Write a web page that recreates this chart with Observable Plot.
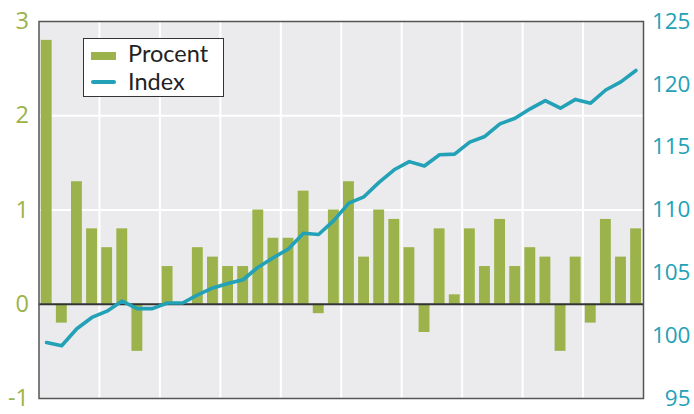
<!DOCTYPE html>
<html>
<head>
<meta charset="utf-8">
<script src="https://cdn.jsdelivr.net/npm/d3@7"></script>
<script src="https://cdn.jsdelivr.net/npm/@observablehq/plot@0.6"></script>
<style>
  html, body { margin: 0; padding: 0; background: #fff; }
  #wrap { position: relative; width: 694px; height: 414px; font-family: "Open Sans", sans-serif; }
  #legend { position: absolute; left: 83px; top: 38px; width: 141px; height: 59px; border: 1.5px solid #333; background: #fff; box-sizing: border-box; }
  .sw { position: absolute; left: 7px; }
  .lt { position: absolute; left: 44px; font-family: Lato, "Open Sans", sans-serif; font-size: 23.5px; line-height: 23px; height: 23px; color: #222; white-space: nowrap; }
</style>
</head>
<body>
<div id="wrap">
  <div id="chart"></div>
  <div id="legend">
    <div class="sw" style="top:13px;width:25px;height:8px;background:#9BB34A"></div>
    <div class="lt" style="top:3.4px">Procent</div>
    <div class="sw" style="top:41px;width:25px;height:4px;border-radius:2px;background:#22A1B7"></div>
    <div class="lt" style="top:31px">Index</div>
  </div>
</div>
<script>
// Quarterly change (%) — 40 quarters
const procent = [2.8, -0.2, 1.3, 0.8, 0.6, 0.8, -0.5, 0, 0.4, 0,
                 0.6, 0.5, 0.4, 0.4, 1.0, 0.7, 0.7, 1.2, -0.1, 1.0,
                 1.3, 0.5, 1.0, 0.9, 0.6, -0.3, 0.8, 0.1, 0.8, 0.4,
                 0.9, 0.4, 0.6, 0.5, -0.5, 0.5, -0.2, 0.9, 0.5, 0.8];
// Index level (right axis)
const index = [99.45, 99.2, 100.55, 101.45, 101.95, 102.75, 102.15, 102.15, 102.6, 102.6,
               103.25, 103.8, 104.15, 104.45, 105.45, 106.2, 106.9, 108.15, 108.05, 109.15,
               110.55, 111.05, 112.2, 113.2, 113.85, 113.5, 114.4, 114.45, 115.4, 115.85,
               116.85, 117.3, 118.05, 118.7, 118.1, 118.8, 118.5, 119.55, 120.2, 121.1];
const leftTicks = [-1, 0, 1, 2, 3];
const rightTicks = [95, 100, 105, 110, 115, 120, 125];
const yearBreaks = [4, 8, 12, 16, 20, 24, 28, 32, 36];

const leftDomain = [-1, 3];
const rightDomain = [95, 125];
const toLeft = v => leftDomain[0] + (v - rightDomain[0]) * (leftDomain[1] - leftDomain[0]) / (rightDomain[1] - rightDomain[0]);
const toRight = v => rightDomain[0] + (v - leftDomain[0]) * (rightDomain[1] - rightDomain[0]) / (leftDomain[1] - leftDomain[0]);

const bars = procent.map((v, i) => ({i, v}));
const line = index.map((v, i) => ({i, v, y: toLeft(v)}));

const green = "#9BB34A";
const teal = "#22A1B7";

const chart = Plot.plot({
  width: 694,
  height: 414,
  marginLeft: 38.5,
  marginRight: 51,
  marginTop: 21,
  marginBottom: 16,
  style: {fontFamily: "Open Sans, sans-serif", background: "transparent"},
  x: {domain: [0, 40], axis: null},
  y: {domain: leftDomain, axis: null},
  marks: [
    Plot.frame({fill: "#EBEBEE", stroke: null}),
    Plot.ruleY([1, 2], {stroke: "#fff", strokeWidth: 2}),
    Plot.ruleX(yearBreaks, {stroke: "#fff", strokeWidth: 2}),
    Plot.rect(bars, {x1: d => d.i + 0.15, x2: d => d.i + 0.87, y1: 0, y2: "v", fill: green}),
    Plot.ruleY([0], {stroke: "#333", strokeWidth: 2}),
    Plot.line(line, {x: d => d.i + 0.5, y: "y", stroke: teal, strokeWidth: 3.6, strokeLinejoin: "round", strokeLinecap: "round"}),
    Plot.frame({stroke: "#555", strokeWidth: 1.5}),
    Plot.axisY({anchor: "left", ticks: leftTicks, tickSize: 0, tickPadding: 10, fontSize: 23.5, fill: green, tickFormat: d => d < 0 ? "-" + Math.abs(d) : String(d)}),
    Plot.axisY({anchor: "right", ticks: rightTicks.map(toLeft), tickSize: 0, tickPadding: 47, textAnchor: "end", fontSize: 22.5, fill: teal, tickFormat: d => String(Math.round(toRight(d)))})
  ]
});
document.getElementById("chart").appendChild(chart);
</script>
</body>
</html>
